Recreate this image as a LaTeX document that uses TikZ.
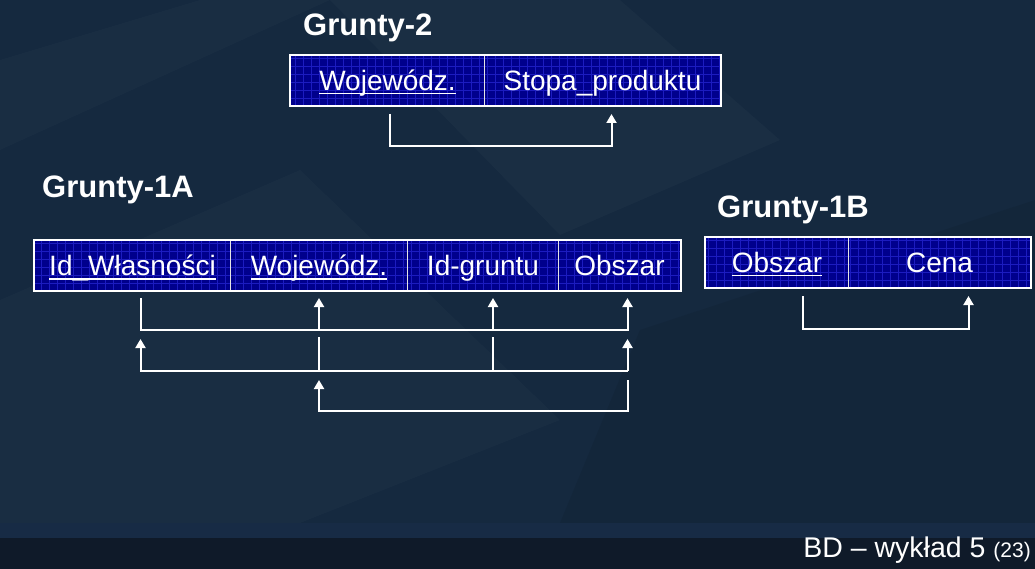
\documentclass[tikz,border=0pt]{standalone}
\usepackage{fontspec}
\setmainfont{Liberation Sans}
\usetikzlibrary{arrows.meta}
\definecolor{bgc}{HTML}{15293F}
\definecolor{footA}{HTML}{172B45}
\definecolor{footB}{HTML}{0F1A29}
\definecolor{cellc}{HTML}{00008C}
\definecolor{gridc}{HTML}{1C1CC0}
\newcommand\ulx[1]{\setbox0\hbox{#1}\rlap{\rule[-4pt]{\wd0}{1.6pt}}\box0}
\begin{document}
\begin{tikzpicture}[x=1pt,y=-1pt,
 cell/.style={draw=white!80!gray, line width=1pt, fill=cellc, minimum height=50pt,
   inner sep=0pt, text height=22pt, text depth=2pt, anchor=north west,
   font=\fontsize{28}{32}\selectfont, text=white,
   path picture={\draw[gridc, line width=0.4pt, step=8pt]
     (path picture bounding box.south west) grid (path picture bounding box.north east);}},
 frame/.style={draw=white, line width=2pt},
 title/.style={font=\bfseries\fontsize{31}{35}\selectfont, text=white, anchor=base west, inner sep=0pt},
 conn/.style={draw=white, line width=2pt},
 arr/.style={conn, -{Triangle[width=10pt,length=9pt]}}]
% background
\fill[bgc] (0,0) rectangle (1035,569);
\fill[white, opacity=0.025] (330,0) -- (620,0) -- (780,140) -- (560,235) -- cycle;
\fill[white, opacity=0.02] (0,300) -- (300,170) -- (560,420) -- (300,523) -- (0,523) -- cycle;
\fill[black, opacity=0.07] (640,330) -- (1035,200) -- (1035,523) -- (560,523) -- cycle;
\fill[white, opacity=0.02] (0,60) -- (200,0) -- (330,0) -- (0,150) -- cycle;
\fill[footA] (0,523) rectangle (1035,538);
\fill[footB] (0,538) rectangle (1035,569);
\useasboundingbox (0,0) rectangle (1035,569);

% Grunty-2
\node[title] (t2) at (303,36) {Grunty-2};
\node[cell, minimum width=194pt] (g2a) at (290,55) {\ulx{Wojewódz.}};
\node[cell, minimum width=236pt] (g2b) at (484,55) {Stopa\_produktu};
\draw[frame] (g2a.north west) rectangle (g2b.south east);
\coordinate (g2s) at ([shift={(2,8)}]g2a.south);
\coordinate (g2t) at ([shift={(9,8)}]g2b.south);
\coordinate (g2m) at ([yshift=-32pt]g2s);
\draw[arr] (g2s) -- (g2m) -| (g2t);

% Grunty-1A
\node[title] (t1a) at (42,198) {Grunty-1A};
\node[cell, minimum width=196pt] (a1) at (34,240) {\ulx{Id\_Własności}};
\node[cell, minimum width=177pt] (a2) at (230,240) {\ulx{Wojewódz.}};
\node[cell, minimum width=151pt] (a3) at (407,240) {Id-gruntu};
\node[cell, minimum width=122pt] (a4) at (558,240) {Obszar};
\draw[frame] (a1.north west) rectangle (a4.south east);
\coordinate (c1) at ([shift={(8,7)}]a1.south);
\coordinate (c2) at ([shift={(0,7)}]a2.south);
\coordinate (c3) at ([shift={(10,7)}]a3.south);
\coordinate (c4) at ([shift={(8,7)}]a4.south);
% row 1
\coordinate (r1) at ([yshift=-32pt]c1);
\draw[arr] (c1) -- (r1) -- (r1 -| c4) -- (c4);
\draw[arr] (r1 -| c2) -- (c2);
\draw[arr] (r1 -| c3) -- (c3);
% row 2
\coordinate (d1) at ([yshift=-41pt]c1);
\coordinate (d4) at ([yshift=-41pt]c4);
\coordinate (r2) at ([yshift=-32pt]d1);
\draw[arr] (r2 -| d4) -- (r2) -- (d1);
\draw[arr] (r2 -| d4) -- (d4);
\coordinate (s2) at ([yshift=-39pt]c2);
\coordinate (s3) at ([yshift=-39pt]c3);
\draw[conn] (s2) -- (r2 -| s2);
\draw[conn] (s3) -- (r2 -| s3);
% row 3
\coordinate (e4) at ([yshift=-82pt]c4);
\coordinate (e2) at ([yshift=-82pt]c2);
\coordinate (r3) at ([yshift=-31pt]e4);
\draw[arr] (e4) -- (r3) -- (r3 -| e2) -- (e2);

% Grunty-1B
\node[title] (t1b) at (717,218) {Grunty-1B};
\node[cell, minimum width=143pt] (b1) at (705,237) {\ulx{Obszar}};
\node[cell, minimum width=182pt] (b2) at (848,237) {Cena};
\draw[frame] (b1.north west) rectangle (b2.south east);
\coordinate (bs) at ([shift={(25.5,8)}]b1.south);
\coordinate (bt) at ([shift={(29,8)}]b2.south);
\coordinate (bm) at ([yshift=-33pt]bs);
\draw[arr] (bs) -- (bm) -| (bt);

% footer
\node[anchor=base east, inner sep=0pt, text=white] (foot) at (1031,557)
  {\fontsize{28.5}{31}\selectfont BD – wykład 5 \fontsize{21}{24}\selectfont(23)};
\end{tikzpicture}
\end{document}
